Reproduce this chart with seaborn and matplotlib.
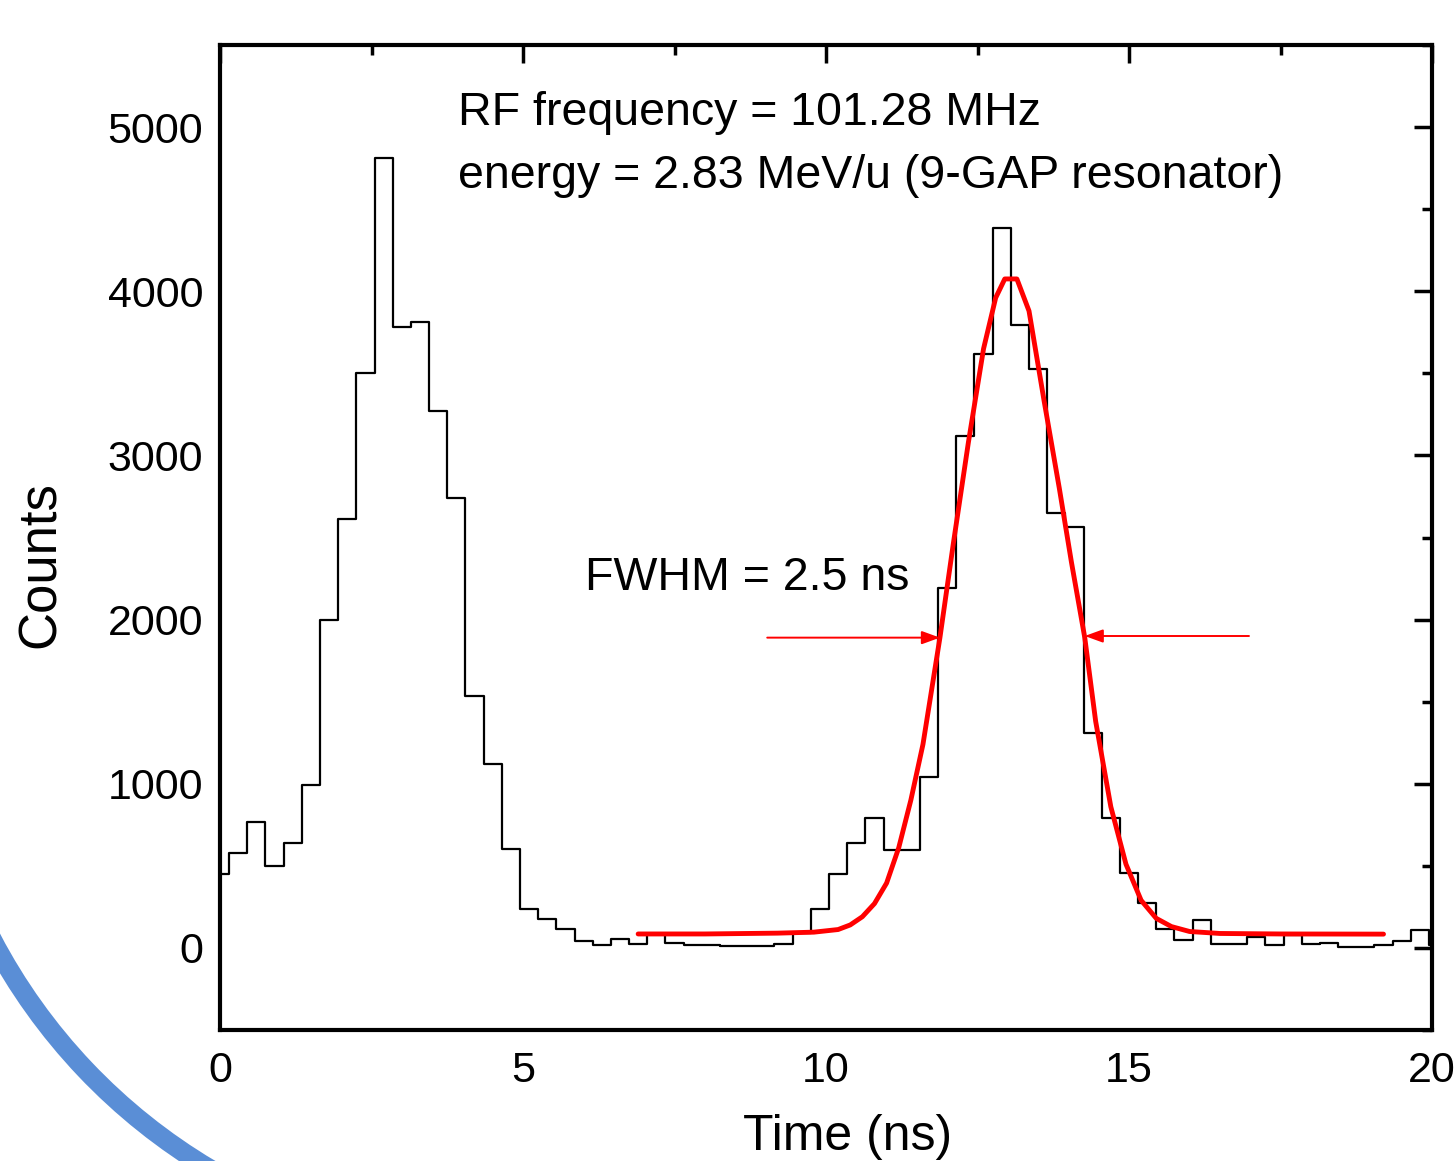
import numpy as np
import pandas as pd
import matplotlib
matplotlib.use("Agg")
import matplotlib.pyplot as plt
from matplotlib.patches import Arc
from matplotlib.ticker import MultipleLocator
import seaborn as sns

# time-of-flight histogram, 0.3 ns bins centred on multiples of 0.3 ns
bin_width = 0.3
counts = [
    450, 580, 769, 500, 640, 990, 2000, 2610, 3500, 4810,
    3785, 3810, 3270, 2740, 1535, 1118, 600, 236, 175, 115,
    40, 20, 52, 26, 85, 28, 20, 20, 12, 12,
    12, 24, 90, 240, 448, 640, 792, 597, 597, 1040,
    2190, 3120, 3617, 4385, 3796, 3524, 2650, 2562, 1310, 792,
    456, 275, 113, 49, 170, 24, 24, 66, 18, 80,
    24, 32, 6, 6, 18, 40, 110, 18,
]

# gaussian fit of the second peak
fit_time = [6.9, 8.0, 9.2, 9.8, 10.2, 10.4, 10.6, 10.8, 11.0, 11.2,
            11.4, 11.6, 11.88, 12.1, 12.35, 12.6, 12.8, 12.95, 13.15, 13.35,
            13.6, 13.85, 14.05, 14.27, 14.45, 14.7, 14.95, 15.2, 15.45, 15.7,
            16.0, 16.5, 17.5, 19.2]
fit_counts = [85, 85, 90, 96, 112, 140, 190, 270, 395, 610,
              900, 1240, 1890, 2460, 3080, 3650, 3960, 4075, 4075, 3880,
              3330, 2800, 2350, 1890, 1380, 860, 510, 290, 180, 130,
              100, 88, 85, 84]

text_rf = "RF frequency = 101.28 MHz"
text_energy = "energy = 2.83 MeV/u (9-GAP resonator)"
text_fwhm = "FWHM = 2.5 ns"

sns.set_style("white")
plt.rcParams["font.family"] = ["Liberation Sans", "DejaVu Sans"]
plt.rcParams["text.color"] = "black"
plt.rcParams["axes.labelcolor"] = "black"
plt.rcParams["xtick.color"] = "black"
plt.rcParams["ytick.color"] = "black"

fig = plt.figure(figsize=(14.54, 11.61), dpi=100)

# blue slide decoration in the lower left corner
bg = fig.add_axes([0, 0, 1, 1], zorder=-1)
bg.set_xlim(0, 1454)
bg.set_ylim(1161, 0)
bg.axis("off")
bg.add_patch(Arc((508, 668), 2 * 583, 2 * 583, theta1=105, theta2=168,
                 color="#5A8ED6", lw=14))

ax = fig.add_axes([220 / 1454, 1 - 1030 / 1161, 1212 / 1454, 985 / 1161])

hist_df = pd.DataFrame({
    "time": np.arange(len(counts)) * bin_width,
    "counts": counts,
})
edges = list((np.arange(len(counts) + 1) - 0.5) * bin_width)
sns.histplot(data=hist_df, x="time", weights="counts", bins=edges,
             element="step", fill=False, color="black", linewidth=1.6, ax=ax)
sns.lineplot(x=fit_time, y=fit_counts, color="red", linewidth=3.5,
             sort=False, estimator=None, ax=ax)

arrow = dict(arrowstyle="-|>,head_length=0.55,head_width=0.2",
             color="red", lw=1.4, mutation_scale=20, shrinkA=0, shrinkB=0)
ax.annotate("", xy=(11.88, 1890), xytext=(9.03, 1890), arrowprops=arrow)
ax.annotate("", xy=(14.27, 1900), xytext=(16.98, 1900), arrowprops=arrow)

ax.text(3.93, 5012, text_rf, fontsize=33.5, va="baseline")
ax.text(3.93, 4630, text_energy, fontsize=33.5, va="baseline")
ax.text(6.02, 2181, text_fwhm, fontsize=33.5, va="baseline")

ax.set_xlim(0, 20)
ax.set_ylim(-500, 5500)
ax.xaxis.set_major_locator(MultipleLocator(5))
ax.xaxis.set_minor_locator(MultipleLocator(2.5))
ax.yaxis.set_major_locator(MultipleLocator(1000))
ax.yaxis.set_minor_locator(MultipleLocator(500))
ax.tick_params(which="both", direction="in", top=True, right=True,
               width=2.5, color="black", labelcolor="black", labelsize=31)
ax.tick_params(which="major", length=13)
ax.tick_params(which="minor", length=7)
ax.tick_params(axis="y", pad=12)
ax.tick_params(axis="x", pad=15)
for side in ax.spines.values():
    side.set_color("black")
    side.set_linewidth(3)

ax.set_xlabel("Time (ns)", fontsize=36, color="black")
ax.set_ylabel("Counts", fontsize=38, color="black")
ax.xaxis.set_label_coords(0.518, -0.085)
ax.yaxis.set_label_coords(-0.127, 0.473)

fig.savefig("out.png", dpi=100)
